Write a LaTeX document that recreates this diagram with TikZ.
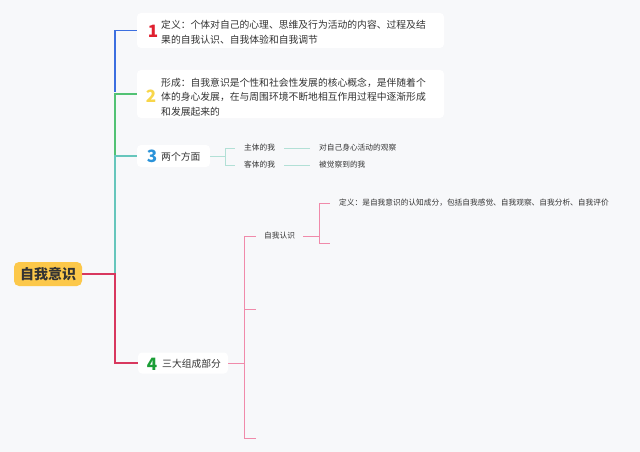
\documentclass[tikz,border=0pt]{standalone}
\usepackage{fontspec}
\setmainfont{Noto Sans CJK SC}
\usetikzlibrary{calc}
\definecolor{PageBg}{HTML}{F7F8FA}
\definecolor{RootYellow}{HTML}{FCC84A}
\definecolor{TextDark}{HTML}{333333}
\definecolor{EdgeBlue}{HTML}{3C6FE0}
\definecolor{EdgeGreen}{HTML}{52C274}
\definecolor{EdgeTeal}{HTML}{66C6BC}
\definecolor{EdgeRed}{HTML}{D8385E}
\definecolor{EdgePink}{HTML}{F08AAA}
\definecolor{EdgeMint}{HTML}{B2E0D6}
\definecolor{NumRed}{HTML}{E0202F}
\definecolor{NumYellow}{HTML}{F8D64A}
\definecolor{NumBlue}{HTML}{2B93D9}
\definecolor{NumGreen}{HTML}{1B9E36}
\tikzstyle{RootNode}=[rectangle, rounded corners=5pt, fill=RootYellow, minimum width=68pt, minimum height=24pt, inner sep=0pt, text=TextDark, font=\fontsize{14}{16}\selectfont\bfseries]
\tikzstyle{TopicBox}=[rectangle, rounded corners=4pt, fill=white, inner sep=0pt]
\tikzstyle{TopicText}=[anchor=west, align=left, inner sep=0pt, text=TextDark, font=\fontsize{9.8}{14.3}\selectfont]
\tikzstyle{TopicNum}=[inner sep=0pt, font=\fontsize{17}{17}\selectfont\bfseries]
\tikzstyle{SubText}=[anchor=west, inner xsep=9pt, inner ysep=2pt, text=TextDark, font=\fontsize{7.7}{9}\selectfont]
\tikzstyle{MainEdge}=[line width=1.5pt]
\tikzstyle{SubEdge}=[line width=0.8pt]

\begin{document}
\begin{tikzpicture}[x=1pt, y=-1pt]
\useasboundingbox (0,0) rectangle (640,452);
\fill[PageBg] (0,0) rectangle (640,452);

\node[RootNode](ROOT) at (48,274) {自我意识};

% topic boxes
\node[TopicBox, minimum width=307pt, minimum height=35pt](T1) at (290.5,30.5) {};
\node[TopicNum, text=NumRed](N1) at (153,31) {1};
\node[TopicText, font=\fontsize{9.8}{14.8}\selectfont](D1) at (161,32.5) {定义：个体对自己的心理、思维及行为活动的内容、过程及结\\果的自我认识、自我体验和自我调节};

\node[TopicBox, minimum width=307pt, minimum height=48pt](T2) at (290.5,94) {};
\node[TopicNum, text=NumYellow](N2) at (151,96) {2};
\node[TopicText](D2) at (161,97) {形成：自我意识是个性和社会性发展的核心概念，是伴随着个\\体的身心发展，在与周围环境不断地相互作用过程中逐渐形成\\和发展起来的};

\node[TopicBox, minimum width=73pt, minimum height=22pt](T3) at (173.5,156) {};
\node[TopicNum, text=NumBlue](N3) at (152,156) {3};
\node[TopicText](D3) at (161,157) {两个方面};

\node[TopicBox, minimum width=90pt, minimum height=21pt](T4) at (183,363) {};
\node[TopicNum, text=NumGreen](N4) at (152,364) {4};
\node[TopicText](D4) at (162,364) {三大组成部分};

% trunk
\coordinate (J1) at (115,92);
\coordinate (J2) at (115,155);
\coordinate (J3) at (115,274);

\draw[MainEdge, EdgeBlue](J1) |- (T1.west);
\draw[MainEdge, EdgeGreen](J2) |- (T2.west);
\draw[MainEdge, EdgeTeal](J3) |- (T3.west);
\draw[MainEdge, EdgeRed](ROOT.east) -- (J3) |- (T4.west);

% two aspects
\node[SubText](S1) at (235,148) {主体的我};
\node[SubText](S2) at (235,165) {客体的我};
\node[SubText](L1) at (310,148) {对自己身心活动的观察};
\node[SubText](L2) at (310,165) {被觉察到的我};
\coordinate (K3) at (225,156);

\draw[SubEdge, EdgeMint](T3.east) -- (K3);
\draw[SubEdge, EdgeMint](K3) |- (S1.west);
\draw[SubEdge, EdgeMint](K3) |- (S2.west);
\draw[SubEdge, EdgeMint](S1.east) -- (L1.west);
\draw[SubEdge, EdgeMint](S2.east) -- (L2.west);

% three parts
\node[SubText, inner xsep=8pt](P1) at (256,236) {自我认识};
\node[SubText](Q1) at (330,203) {定义：是自我意识的认知成分，包括自我感觉、自我观察、自我分析、自我评价};
\coordinate (K4) at (244,363);
\coordinate (K5) at (319,236);
\coordinate (E1) at (256,309);
\coordinate (E2) at (256,438);
\coordinate (E3) at (330,243);

\draw[SubEdge, EdgePink](T4.east) -- (K4);
\draw[SubEdge, EdgePink](K4) |- (P1.west);
\draw[SubEdge, EdgePink](K4) |- (E1);
\draw[SubEdge, EdgePink](K4) |- (E2);
\draw[SubEdge, EdgePink](P1.east) -- (K5);
\draw[SubEdge, EdgePink](K5) |- (Q1.west);
\draw[SubEdge, EdgePink](K5) |- (E3);

\end{tikzpicture}
\end{document}
